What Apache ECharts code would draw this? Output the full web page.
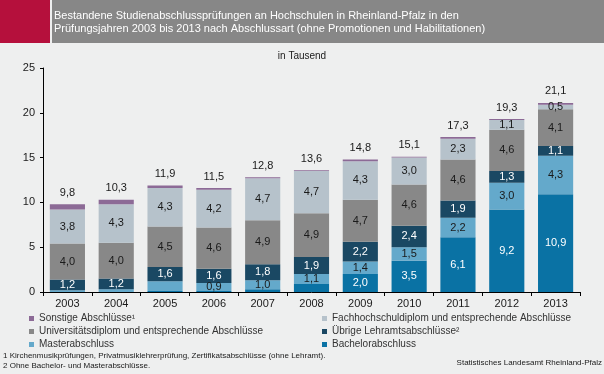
<!DOCTYPE html>
<html>
<head>
<meta charset="utf-8">
<script src="https://cdn.jsdelivr.net/npm/echarts@6/dist/echarts.min.js"></script>
<style>
html,body{margin:0;padding:0;background:#EEEFEF;}
#c{width:604px;height:374px;}
</style>
</head>
<body>
<div id="c"></div>
<script>
var years = ['2003','2004','2005','2006','2007','2008','2009','2010','2011','2012','2013'];
var bachelor   = [0.0, 0.0, 0.1, 0.1, 0.3, 0.9, 2.0, 3.5, 6.1, 9.2, 10.9];
var master     = [0.2, 0.3, 1.1, 0.9, 1.0, 1.1, 1.4, 1.5, 2.2, 3.0, 4.3];
var uebrige    = [1.2, 1.2, 1.6, 1.6, 1.8, 1.9, 2.2, 2.4, 1.9, 1.3, 1.1];
var uni        = [4.0, 4.0, 4.5, 4.6, 4.9, 4.9, 4.7, 4.6, 4.6, 4.6, 4.1];
var fh         = [3.8, 4.3, 4.3, 4.2, 4.7, 4.7, 4.3, 3.0, 2.3, 1.1, 0.5];
var sonstige   = [0.6, 0.5, 0.3, 0.2, 0.1, 0.1, 0.2, 0.1, 0.2, 0.1, 0.2];
var totals     = [9.8, 10.3, 11.9, 11.5, 12.8, 13.6, 14.8, 15.1, 17.3, 19.3, 21.1];
var yTicks     = [0, 5, 10, 15, 20, 25];
// segments whose value label is not printed in the original
var hiddenBachelor = [0,1,2,3,4,5];
var hiddenMaster   = [0,1,2];

var names = {
  son: 'Sonstige Abschlüsse',
  fh: 'Fachhochschuldiplom und entsprechende Abschlüsse',
  uni: 'Universitätsdiplom und entsprechende Abschlüsse',
  ueb: 'Übrige Lehramtsabschlüsse',
  mas: 'Masterabschluss',
  bac: 'Bachelorabschluss'
};
var colors = {
  bac: '#0A72A4', mas: '#64A9CB', ueb: '#1A4863', uni: '#888888', fh: '#B6C2CB', son: '#8C6A96'
};
function fmt(v){ return v.toFixed(1).replace('.', ','); }
function mk(arr, hidden){
  return arr.map(function(v,i){
    var o = {value: v};
    if (hidden && hidden.indexOf(i) >= 0) o.label = {show:false};
    return o;
  });
}
var FONT = 'Liberation Sans, Arial, sans-serif';
function seg(key, arr, hidden, lblColor){
  return {
    name: names[key], type: 'bar', stack: 'a', barCategoryGap: '28%',
    itemStyle: {color: colors[key]},
    data: mk(arr, hidden),
    label: {show: true, position: 'inside', color: lblColor, fontSize: 11, fontFamily: FONT,
      formatter: function(p){ return fmt(p.value); }}
  };
}
var series = [
  seg('bac', bachelor, hiddenBachelor, '#FFFFFF'),
  seg('mas', master, hiddenMaster, '#1A1A1A'),
  seg('ueb', uebrige, null, '#FFFFFF'),
  seg('uni', uni, null, '#1A1A1A'),
  seg('fh', fh, null, '#1A1A1A'),
  {
    name: names.son, type: 'bar', stack: 'a', barCategoryGap: '28%',
    itemStyle: {color: colors.son},
    data: sonstige,
    label: {show: true, position: 'top', distance: 6, color: '#1A1A1A', fontSize: 11, fontFamily: FONT,
      formatter: function(p){ return fmt(totals[p.dataIndex]); }}
  }
];
function legendFmt(name){
  if (name === names.son) return name + '¹';
  if (name === names.ueb) return name + '²';
  return name;
}
var legendText = {color:'#333', fontSize: 10, fontFamily: FONT, lineHeight: 13};

var chart = echarts.init(document.getElementById('c'), null, {renderer: 'canvas'});
chart.setOption({
  backgroundColor: '#EEEFEF',
  animation: false,
  textStyle: {fontFamily: FONT},
  grid: {left: 43, right: 24, top: 68, bottom: 82},
  xAxis: {
    type: 'category', data: years,
    axisLine: {lineStyle: {color: '#000', width: 1}},
    axisTick: {show: true, alignWithLabel: false, length: 4, lineStyle: {color: '#000'}},
    axisLabel: {color: '#1A1A1A', fontSize: 11, margin: 6, fontFamily: FONT}
  },
  yAxis: {
    type: 'value', min: yTicks[0], max: yTicks[yTicks.length-1], interval: 5,
    axisLine: {show: true, lineStyle: {color: '#000'}},
    axisTick: {show: true, length: 3, lineStyle: {color: '#000'}},
    splitLine: {show: false},
    axisLabel: {color: '#1A1A1A', fontSize: 11, margin: 8, fontFamily: FONT}
  },
  legend: [
    {data: [names.son, names.uni, names.mas], orient: 'vertical', left: 29, top: 312, padding: 0,
     itemWidth: 5, itemHeight: 5, itemGap: 0, icon: 'rect', formatter: legendFmt, textStyle: legendText},
    {data: [names.fh, names.ueb, names.bac], orient: 'vertical', left: 322, top: 312, padding: 0,
     itemWidth: 5, itemHeight: 5, itemGap: 0, icon: 'rect', formatter: legendFmt, textStyle: legendText}
  ],
  graphic: [
    {type: 'rect', shape: {x: 0, y: 0, width: 50, height: 43}, style: {fill: '#B5103C'}},
    {type: 'rect', shape: {x: 52, y: 0, width: 552, height: 43}, style: {fill: '#878787'}},
    {type: 'text', left: 54, top: 9, style: {text: 'Bestandene Studienabschlussprüfungen an Hochschulen in Rheinland-Pfalz in den\nPrüfungsjahren 2003 bis 2013 nach Abschlussart (ohne Promotionen und Habilitationen)',
      fill: '#FFFFFF', font: '11px ' + FONT, lineHeight: 13}},
    {type: 'text', left: 'center', top: 51, style: {text: 'in Tausend', fill: '#1A1A1A', font: '10px ' + FONT}},
    {type: 'text', left: 3, top: 351, style: {text: '1 Kirchenmusikprüfungen, Privatmusiklehrerprüfung, Zertifikatsabschlüsse (ohne Lehramt).\n2 Ohne Bachelor- und Masterabschlüsse.',
      fill: '#1A1A1A', font: '8px ' + FONT, lineHeight: 10}},
    {type: 'text', right: 2, top: 359, style: {text: 'Statistisches Landesamt Rheinland-Pfalz', fill: '#1A1A1A', font: '8px ' + FONT}}
  ],
  series: series
});
</script>
</body>
</html>
